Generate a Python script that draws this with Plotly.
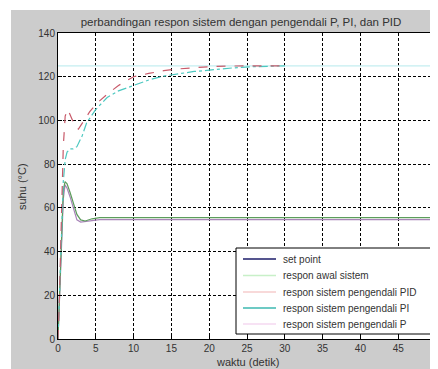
import plotly.graph_objects as go

# --- data ---
t_sp = [0, 50]
setpoint = [125, 125]

t_pid = [0, 0.2, 0.45, 0.7, 0.95, 1.3, 1.8, 2.3, 2.7, 3.3, 4.2, 5.2, 6.5, 8, 10, 12, 14, 16, 18, 20, 23, 26, 30]
pid = [0, 20, 55, 88, 102, 105, 101, 97, 96, 99, 104, 108, 112, 116, 120, 121.5, 122.8, 123.6, 124.2, 124.6, 124.9, 125, 125]

t_pi = [0, 0.2, 0.45, 0.7, 0.95, 1.2, 1.6, 2.0, 2.5, 3.2, 3.8, 5, 6.5, 8, 10, 12, 14, 16, 18, 20, 23, 26, 30]
pi = [0, 18, 45, 72, 82, 85.5, 87, 87, 88, 93, 99, 105, 110.5, 113.5, 116, 118.5, 120.3, 121.5, 122.4, 123, 124, 124.6, 125]

t_awal = [0, 0.2, 0.45, 0.7, 0.93, 1.2, 1.6, 2.0, 2.5, 3.0, 3.6, 4.5, 5.5, 10, 20, 30, 40, 50]
awal = [0, 22, 50, 68, 72, 71, 67, 62, 57, 54.5, 54, 55, 55.5, 55.5, 55.5, 55.5, 55.5, 55.5]

t_p = [0, 0.2, 0.45, 0.7, 0.93, 1.2, 1.6, 2.0, 2.5, 3.0, 3.6, 4.5, 5.5, 10, 20, 30, 40, 50]
p = [0, 20, 45, 64, 70.5, 69, 65, 60, 54.5, 53.5, 53.8, 54.3, 54.6, 54.6, 54.6, 54.6, 54.6, 54.6]

legend_names = ["set point", "respon awal sistem", "respon sistem pengendali PID",
                "respon sistem pengendali PI", "respon sistem pengendali P"]
legend_colors = ["#1c1c6a", "#c8f0c8", "#f6cccc", "#3cb8b0", "#f4d8f0"]

x_ticks = [0, 5, 10, 15, 20, 25, 30, 35, 40, 45, 50]
y_ticks = [0, 20, 40, 60, 80, 100, 120, 140]

# page has an 8px body margin: figure origin sits at page (8, 8)
OFF = 8
W, H = 430, 361
L, R, T, B = 50, 2, 25, 30
PW, PH = W - L - R, H - T - B


def px(page_x):
    return (page_x - OFF - L) / PW


def py(page_y):
    return (H - B - (page_y - OFF)) / PH


FONT = "Liberation Sans, Arial, sans-serif"
TXT = "#333333"

fig = go.Figure()

fig.add_trace(go.Scatter(x=t_sp, y=setpoint, mode="lines", showlegend=False,
                         line=dict(color="#c4eef0", width=1.2)))
fig.add_trace(go.Scatter(x=t_p, y=p, mode="lines", showlegend=False,
                         line=dict(color="#a884b8", width=1.2)))
fig.add_trace(go.Scatter(x=t_awal, y=awal, mode="lines", showlegend=False,
                         line=dict(color="#5c9c5c", width=1.2)))
fig.add_trace(go.Scatter(x=t_pi, y=pi, mode="lines", showlegend=False,
                         line=dict(color="#4cc8c0", width=1.2, dash="dashdot")))
fig.add_trace(go.Scatter(x=t_pid, y=pid, mode="lines", showlegend=False,
                         line=dict(color="#c85a6a", width=1.2, dash="dash")))

axis_common = dict(
    showline=True, linecolor="black", linewidth=1, mirror=True,
    ticks="inside", ticklen=4, tickcolor="black",
    showgrid=True, gridcolor="black", gridwidth=1, griddash="3px,2px",
    zeroline=False, tickfont=dict(family=FONT, size=10, color=TXT),
)
fig.update_xaxes(range=[0, 50], tickvals=x_ticks, **axis_common)
fig.update_yaxes(range=[0, 140], tickvals=y_ticks, **axis_common)

shapes = [
    dict(type="rect", xref="paper", yref="paper", x0=px(-20), x1=px(11),
         y0=py(400), y1=py(-20), fillcolor="white", line=dict(width=0), layer="below"),
    dict(type="rect", xref="paper", yref="paper", x0=px(-20), x1=px(460),
         y0=py(10), y1=py(-20), fillcolor="white", line=dict(width=0), layer="below"),
    # legend box
    dict(type="rect", xref="paper", yref="paper", x0=px(236), x1=px(431),
         y0=py(334), y1=py(248), fillcolor="white", line=dict(color="black", width=1),
         layer="above"),
]
annotations = [
    dict(text="waktu (detik)", xref="paper", yref="paper", x=px(247), y=py(362),
         xanchor="center", yanchor="middle", showarrow=False,
         font=dict(family=FONT, size=11, color=TXT)),
    dict(text="suhu (°C)", xref="paper", yref="paper", x=px(22), y=py(187),
         xanchor="center", yanchor="middle", showarrow=False, textangle=-90,
         font=dict(family=FONT, size=11, color=TXT)),
]
row_y = [259, 275.5, 292, 308, 324]
for name, col, ry in zip(legend_names, legend_colors, row_y):
    shapes.append(dict(type="line", xref="paper", yref="paper", x0=px(243), x1=px(276),
                       y0=py(ry), y1=py(ry), line=dict(color=col, width=1.5), layer="above"))
    annotations.append(dict(text=name, xref="paper", yref="paper", x=px(281), y=py(ry),
                            xanchor="left", yanchor="middle", showarrow=False,
                            font=dict(family=FONT, size=10, color=TXT)))

fig.update_layout(
    width=W, height=H,
    margin=dict(l=L, r=R, t=T, b=B),
    paper_bgcolor="#cccccc", plot_bgcolor="white",
    showlegend=False,
    title=dict(text="perbandingan respon sistem dengan pengendali P, PI, dan PID",
               x=px(241), xref="paper", xanchor="center", y=1 - (22 - OFF) / H, yanchor="middle",
               font=dict(family=FONT, size=11.5, color=TXT)),
    shapes=shapes,
    annotations=annotations,
)

fig.write_html("out.html")
